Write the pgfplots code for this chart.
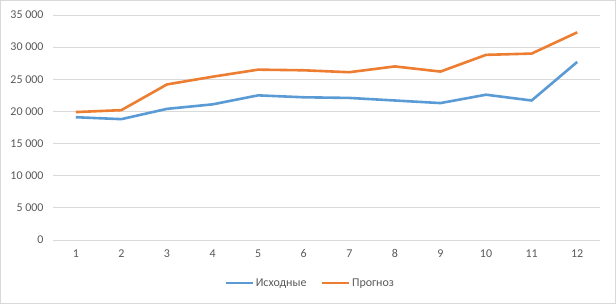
\documentclass[border=0pt]{standalone}
\usepackage{pgfplots}
\pgfplotsset{compat=1.18}
\usepackage{fontspec}
\setmainfont{Carlito}
\definecolor{txt}{HTML}{595959}
\definecolor{grd}{HTML}{D9D9D9}
\definecolor{cblue}{HTML}{5B9BD5}
\definecolor{corange}{HTML}{ED7D31}
\definecolor{frm}{HTML}{D9D9D9}
\begin{document}
\begin{tikzpicture}[x=1bp,y=1bp]
\draw[frm, line width=1bp] (-52.5,-63.5) rectangle (562.5,239.5);
\begin{axis}[
  at={(0,0)}, anchor=origin,
  scale only axis, width=547bp, height=225bp,
  xmin=0.5, xmax=12.5, ymin=0, ymax=35000,
  xtick={1,...,12}, ytick={0,5000,...,35000},
  ymajorgrids, grid style={grd, line width=1bp},
  axis line style={draw=none},
  major tick length=0pt,
  font=\fontsize{12}{14}\selectfont\color{txt},
  ticklabel style={font=\fontsize{12}{14}\selectfont\color{txt}},
  yticklabel style={xshift=-6bp},
  xticklabel style={yshift=-6bp},
  /pgf/number format/.cd, 1000 sep={\ }, assume math mode=true,
  /pgfplots/.cd,
  scaled y ticks=false,
  legend columns=2,
  legend style={at={(0.47,-0.191)}, anchor=center, draw=none, fill=none,
    font=\fontsize{12}{14}\selectfont\color{txt},
    /tikz/every even column/.append style={column sep=12bp}},
  legend image code/.code={\draw[#1] (0bp,0bp) -- (27bp,0bp);},
]
\addplot[cblue, line width=2.6bp, line join=round] coordinates {
(1,19100) (2,18800) (3,20400) (4,21100) (5,22500) (6,22200)
(7,22100) (8,21700) (9,21300) (10,22600) (11,21700) (12,27700)};
\addlegendentry{Исходные}
\addplot[corange, line width=2.6bp, line join=round] coordinates {
(1,19900) (2,20200) (3,24200) (4,25400) (5,26500) (6,26400)
(7,26100) (8,27000) (9,26200) (10,28800) (11,29000) (12,32300)};
\addlegendentry{Прогноз}
\end{axis}
\end{tikzpicture}
\end{document}
